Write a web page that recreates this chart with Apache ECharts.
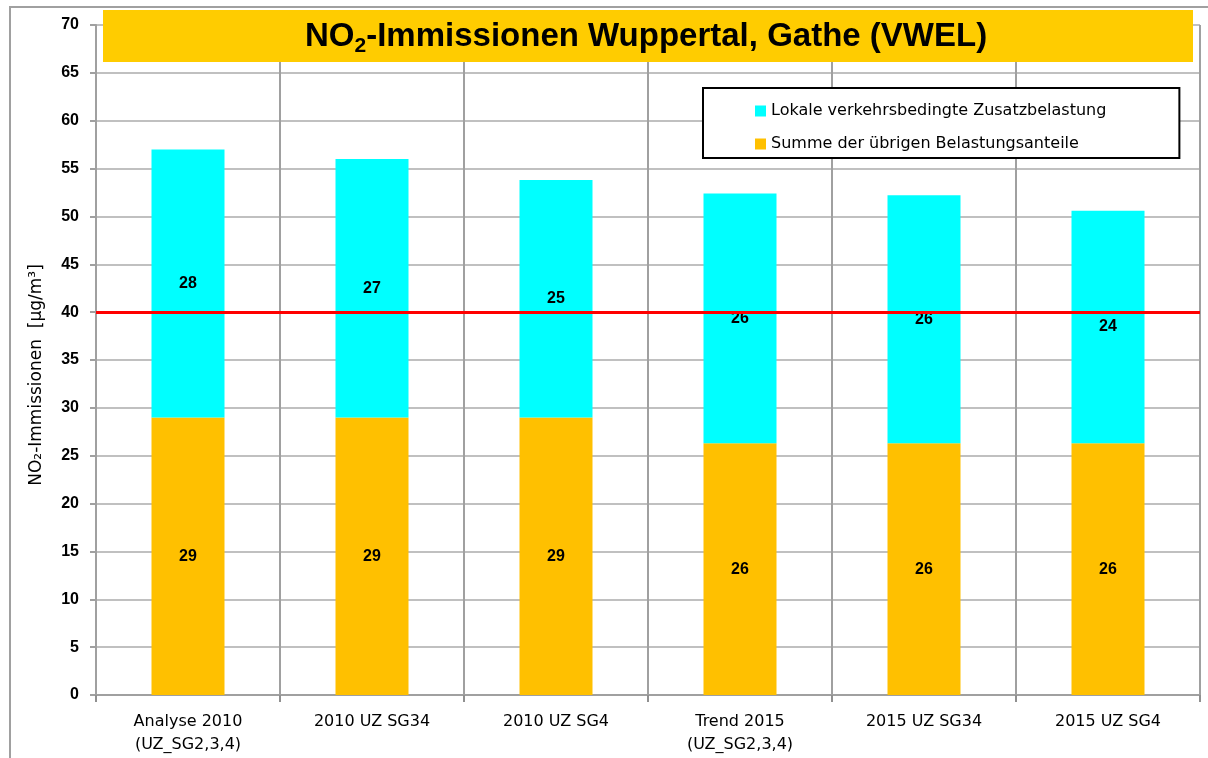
<!DOCTYPE html>
<html>
<head>
<meta charset="utf-8">
<script src="https://cdn.jsdelivr.net/npm/echarts@6/dist/echarts.min.js"></script>
<style>
html,body{margin:0;padding:0;background:#fff;}
#main{width:1208px;height:758px;}
</style>
</head>
<body>
<div id="main"></div>
<script>
var categories = ['Analyse 2010\n(UZ_SG2,3,4)', '2010 UZ SG34', '2010 UZ SG4', 'Trend 2015\n(UZ_SG2,3,4)', '2015 UZ SG34', '2015 UZ SG4'];
var sumOther = [29, 29, 29, 26.3, 26.3, 26.3];
var localTraffic = [28, 27, 24.8, 26.1, 25.9, 24.3];
var limitValue = 40;
var yTicks = {min: 0, max: 70, interval: 5};

var chart = echarts.init(document.getElementById('main'));
var font = 'Liberation Sans, Arial, sans-serif';
var wide = 'DejaVu Sans, sans-serif';

chart.setOption({
  animation: false,
  textStyle: {fontFamily: font},
  graphic: [
    {type: 'rect', shape: {x: 10, y: 7, width: 1210, height: 760}, style: {fill: 'none', stroke: '#a0a0a0', lineWidth: 2}, z: -1},
    {type: 'rect', shape: {x: 103, y: 10, width: 1090, height: 52}, style: {fill: '#FFCC00'}, z: 5},
    {type: 'text', left: 305, top: 20, z: 6,
      style: {
        text: '{a|NO}{s|2}{a|-Immissionen Wuppertal, Gathe (VWEL)}',
        rich: {
          a: {fontSize: 33, fontWeight: 'bold', fill: '#000', fontFamily: font},
          s: {fontSize: 21, fontWeight: 'bold', fill: '#000', fontFamily: font, padding: [20, 0, 0, 0]}
        }
      }
    }
  ],
  legend: {
    orient: 'vertical',
    left: 703, top: 88,
    padding: [15, 73, 6, 52],
    itemGap: 17,
    itemWidth: 11, itemHeight: 11,
    backgroundColor: '#fff',
    borderColor: '#000',
    borderWidth: 2,
    textStyle: {fontSize: 16, color: '#000', fontFamily: wide},
    data: [
      {name: 'Lokale verkehrsbedingte Zusatzbelastung', icon: 'rect'},
      {name: 'Summe der übrigen Belastungsanteile', icon: 'rect'}
    ],
    z: 10
  },
  grid: {left: 96, right: 8, top: 25, bottom: 63},
  xAxis: {
    type: 'category',
    data: categories,
    axisLine: {lineStyle: {color: '#a0a0a0', width: 2}},
    axisTick: {show: true, length: 7, lineStyle: {color: '#909090', width: 2}},
    splitLine: {show: true, lineStyle: {color: '#a0a0a0', width: 2}},
    axisLabel: {color: '#000', fontSize: 16, fontFamily: wide, margin: 15, lineHeight: 23, interval: 0}
  },
  yAxis: {
    type: 'value',
    min: yTicks.min, max: yTicks.max, interval: yTicks.interval,
    name: 'NO₂-Immissionen  [µg/m³]',
    nameLocation: 'middle',
    nameGap: 51,
    nameTextStyle: {fontSize: 17, color: '#000', fontFamily: wide, padding: [0, 30, 0, 0]},
    axisLine: {show: true, lineStyle: {color: '#a0a0a0', width: 2}},
    axisTick: {show: true, length: 6, lineStyle: {color: '#a0a0a0', width: 2}},
    splitLine: {lineStyle: {color: '#c0c0c0', width: 2}},
    axisLabel: {color: '#000', fontSize: 16, fontWeight: 'bold', fontFamily: font, margin: 17}
  },
  series: [
    {
      name: 'Summe der übrigen Belastungsanteile',
      type: 'bar', stack: 'total', barWidth: 73,
      itemStyle: {color: '#FFC000'},
      label: {show: true, position: 'inside', color: '#000', fontSize: 16, fontWeight: 'bold', fontFamily: font,
        formatter: function (p) { return Math.round(p.value); }},
      data: sumOther,
      markLine: {
        silent: true, symbol: 'none',
        label: {show: false},
        lineStyle: {color: '#FF0000', width: 3, type: 'solid'},
        data: [{yAxis: limitValue}],
        z: 8
      }
    },
    {
      name: 'Lokale verkehrsbedingte Zusatzbelastung',
      type: 'bar', stack: 'total', barWidth: 73,
      itemStyle: {color: '#00FFFF'},
      label: {show: true, position: 'inside', color: '#000', fontSize: 16, fontWeight: 'bold', fontFamily: font,
        formatter: function (p) { return Math.round(p.value); }},
      data: localTraffic
    }
  ]
});
</script>
</body>
</html>
